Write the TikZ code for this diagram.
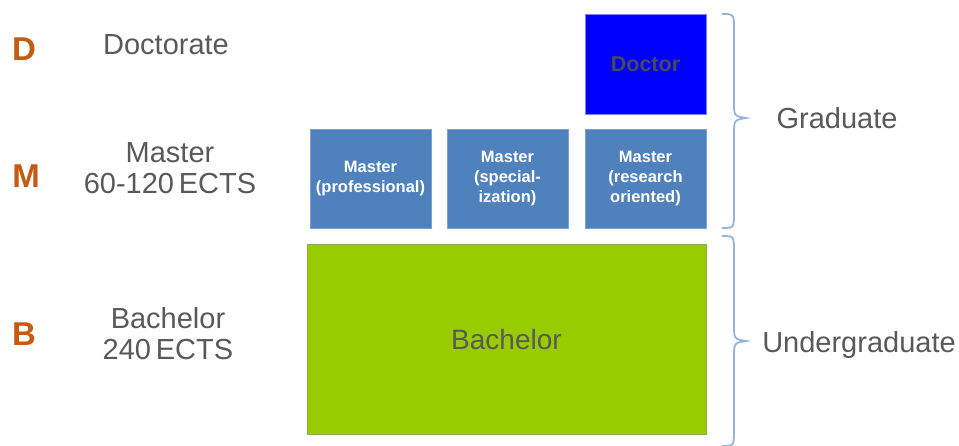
\documentclass[tikz,border=0pt]{standalone}
\usepackage{fontspec}
\setmainfont{Liberation Sans}
\definecolor{lettercol}{RGB}{197,90,17}
\definecolor{labelcol}{RGB}{89,89,89}
\definecolor{mastercol}{RGB}{79,129,189}
\definecolor{masterline}{RGB}{125,160,210}
\definecolor{doccol}{RGB}{0,0,255}
\definecolor{docline}{RGB}{130,130,255}
\definecolor{doctext}{RGB}{72,72,92}
\definecolor{bachcol}{RGB}{153,204,0}
\definecolor{bachline}{RGB}{140,170,90}
\definecolor{bracecol}{RGB}{149,179,215}
\begin{document}
\begin{tikzpicture}[x=1pt,y=-1pt,
  letter/.style={text=lettercol,font=\fontsize{33}{33}\selectfont\bfseries,inner sep=0pt,anchor=base},
  lbl/.style={text=labelcol,font=\fontsize{29}{31}\selectfont,inner sep=0pt,align=center},
  masterbox/.style={fill=mastercol,draw=masterline,line width=0.8pt,minimum width=121pt,minimum height=99pt,inner sep=0pt,text=white,align=center,font=\fontsize{16.5}{20}\selectfont\bfseries},
  docbox/.style={fill=doccol,draw=docline,line width=0.8pt,minimum width=121pt,minimum height=100pt,inner sep=0pt,text=doctext,font=\fontsize{21.5}{24}\selectfont\bfseries},
  bachbox/.style={fill=bachcol,draw=bachline,line width=0.8pt,minimum width=399pt,minimum height=190pt,inner sep=0pt,text=labelcol,font=\fontsize{28}{30}\selectfont},
  bracestyle/.style={draw=bracecol,line width=1.8pt}
]
\useasboundingbox (0,0) rectangle (959,445);
% letters
\node[letter] (D) at (24,60) {D};
\node[letter] (M) at (26,187) {M};
\node[letter] (B) at (24,345) {B};
% left labels
\node[lbl,anchor=base] (doctorate) at (166,54) {Doctorate};
\node[lbl,anchor=base] (masterlbl) at (170,193) {Master\\60-120\,ECTS};
\node[lbl,anchor=base] (bachlbl) at (168,359) {Bachelor\\240\,ECTS};
% boxes
\node[docbox] (doctor) at (645.5,64) {Doctor};
\node[masterbox] (m1) at (370.5,178.5) {Master\\(professional)};
\node[masterbox] (m2) at (507.5,178.5) {Master\\(special-\\ization)};
\node[masterbox] (m3) at (645.5,178.5) {Master\\(research\\oriented)};
\node[bachbox] (bach) at (506.5,339) {Bachelor};
% braces
\coordinate (g0) at (722,14);
\coordinate (gt) at (746,118);
\coordinate (g1) at (722,228);
\coordinate (u0) at (722,236);
\coordinate (ut) at (746,341);
\coordinate (u1) at (722,446);
\draw[bracestyle] (g0) .. controls (734,14) .. (734,30) -- (734,102) .. controls (734,116) .. (gt)
  .. controls (734,120) .. (734,134) -- (734,212) .. controls (734,228) .. (g1);
\draw[bracestyle] (u0) .. controls (734,236) .. (734,252) -- (734,325) .. controls (734,339) .. (ut)
  .. controls (734,343) .. (734,357) -- (734,430) .. controls (734,446) .. (u1);
\node[lbl,anchor=base] (grad) at (837,128) {Graduate};
\node[lbl,anchor=base] (undergrad) at (859,352) {Undergraduate};
\end{tikzpicture}
\end{document}
